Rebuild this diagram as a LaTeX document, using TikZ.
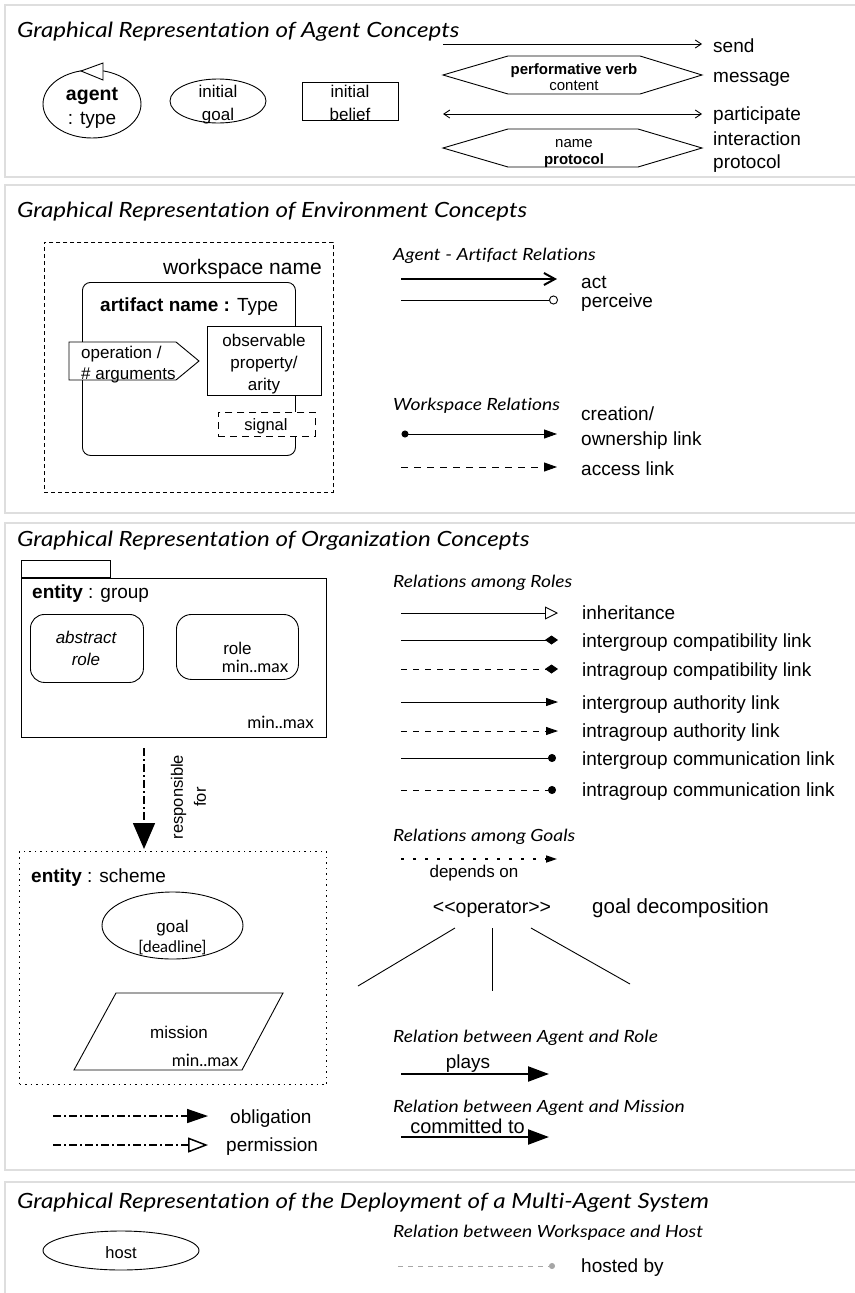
\documentclass[tikz,border=0pt]{standalone}
\usepackage{fontspec}
\setmainfont{Liberation Sans}
\newfontfamily\opt{Lato}[Ligatures={NoCommon}]
\newfontfamily\optwide{Lato}[Ligatures={NoCommon}, FakeStretch=1.15]
\usetikzlibrary{arrows.meta,shapes.geometric}
\newcommand\fsz[2]{\fontsize{#1}{#2}\selectfont}
\tikzset{
  panel/.style={draw=black!13, line width=1.6pt},
  headline/.style={anchor=base west, inner sep=0pt, font=\optwide\itshape\fsz{21}{24}},
  subhead/.style={anchor=base west, inner sep=0pt, font=\optwide\itshape\fsz{16.8}{19}},
  lbl/.style={anchor=mid west, yshift=-1.8pt, inner sep=0pt, font=\fsz{19}{22}},
  txt/.style={anchor=mid, yshift=-1.3pt, inner sep=0pt, font=\fsz{17}{20}},
  optxt/.style={anchor=mid, yshift=-1pt, inner sep=0pt, font=\opt\fsz{17}{20}},
  box/.style={draw, line width=0.9pt, inner sep=0pt},
  legend/.style={line width=0.9pt},
  dashline/.style={line width=0.9pt, dash pattern=on 6pt off 6pt},
  dashdot/.style={line width=1.5pt, dash pattern=on 8pt off 3pt on 2pt off 3pt},
}
\begin{document}
\begin{tikzpicture}[x=1pt,y=-1pt]
% the mid anchors below are measured with this font size
\fsz{19}{22}
\useasboundingbox (0,0) rectangle (854,1293);

% ---------------- agent concepts ----------------
\draw[panel] (5,5) rectangle (860,177);
\node[headline] (t1) at (17,37) {Graphical Representation of Agent Concepts};

\node[box, ellipse, minimum width=98pt, minimum height=68pt] (agent) at (92,104) {};
\filldraw[fill=white, line width=0.9pt] (81,71) -- (103,63) -- (103,80) -- cycle;
\node[txt, font=\bfseries\fsz{19.5}{22}] (agentname) at (92,94) {agent};
\node[txt, font=\fsz{19}{22}] (agenttype) at (92,118.5) {: type};

\node[box, ellipse, minimum width=96pt, minimum height=44pt] (igoal) at (218,101) {};
\node[txt] (igoal1) at (218,91) {initial};
\node[txt] (igoal2) at (218,114) {goal};

\node[box, minimum width=96pt, minimum height=38pt] (ibel) at (350,101) {};
\node[txt] (ibel1) at (350,91) {initial};
\node[txt] (ibel2) at (350,114) {belief};

\coordinate (send-a) at (443,44); \coordinate (send-b) at (702,44);
\draw[legend, -{Straight Barb[length=6pt,width=8pt]}] (send-a) -- (send-b);
\node[lbl] (send) at (713,46) {send};

\draw[legend] (443,75) -- (508,56) -- (640,56) -- (702,75) -- (640,94) -- (508,94) -- cycle;
\node[txt, font=\bfseries\fsz{15}{17}] (perf) at (574,68) {performative verb};
\node[txt, font=\fsz{15}{17}] (content) at (574,84) {content};
\node[lbl] (message) at (713,76) {message};

\coordinate (part-a) at (443,114); \coordinate (part-b) at (702,114);
\draw[legend, {Straight Barb[length=6pt,width=8pt]}-{Straight Barb[length=6pt,width=8pt]}] (part-a) -- (part-b);
\node[lbl] (participate) at (713,113.5) {participate};

\draw[legend] (443,148) -- (508,129) -- (638,129) -- (702,148) -- (638,167) -- (508,167) -- cycle;
\node[txt, font=\fsz{15}{17}] (pname) at (574,141) {name};
\node[txt, font=\bfseries\fsz{15}{17}] (pproto) at (574,158) {protocol};
\node[lbl] (interaction) at (713,139) {interaction};
\node[lbl] (protocol) at (713,162) {protocol};

% ---------------- environment concepts ----------------
\draw[panel] (5,185) rectangle (860,513);
\node[headline] (t2) at (17,217) {Graphical Representation of Environment Concepts};

\node[box, dash pattern=on 4pt off 3pt, minimum width=289pt, minimum height=250pt, anchor=north west] (ws) at (44,242) {};
\node[anchor=mid east, yshift=-1.8pt, inner sep=0pt, font=\fsz{21}{24}] (wsname) at (322,268) {workspace name};
\node[box, rounded corners=8pt, minimum width=213pt, minimum height=173pt, anchor=north west] (art) at (82,282) {};
\node[anchor=mid west, yshift=-1.8pt, inner sep=0pt, font=\fsz{19}{22}] (artname) at (100,305) {\textbf{artifact name :} Type};

\node[box, fill=white, minimum width=114pt, minimum height=69pt, anchor=north west] (obs) at (207,326) {};
\node[txt] (obs1) at (264,340) {observable};
\node[txt] (obs2) at (264,362) {property/};
\node[txt] (obs3) at (264,384) {arity};

\filldraw[fill=white, line width=0.9pt] (69,342) -- (176,342) -- (199,361) -- (176,380) -- (69,380) -- cycle;
\node[txt, anchor=mid west] (op1) at (81,352) {operation /};
\node[txt, anchor=mid west] (op2) at (81,373) {\# arguments};

\node[box, fill=white, dash pattern=on 7pt off 5pt, minimum width=97pt, minimum height=24pt, anchor=north west] (sig) at (218,412) {};
\node[txt, font=\fsz{16.5}{19}] (sigtxt) at (266,424.5) {signal};

\node[subhead] (h21) at (393,260) {Agent - Artifact Relations};
\coordinate (act-a) at (401,279); \coordinate (act-b) at (557,279);
\draw[line width=2pt, -{Straight Barb[length=11pt,width=12pt]}] (act-a) -- (act-b);
\node[lbl] (act) at (581,281.5) {act};
\coordinate (per-a) at (401,300); \coordinate (per-b) at (558,300);
\draw[legend, -{Circle[open,length=9pt]}] (per-a) -- (per-b);
\node[lbl] (perceive) at (581,300.5) {perceive};

\node[subhead] (h22) at (393,410) {Workspace Relations};
\coordinate (cre-a) at (401.5,434); \coordinate (cre-b) at (557,434);
\draw[legend, {Circle[length=7pt]}-{Triangle[length=13pt,width=9pt]}] (cre-a) -- (cre-b);
\node[lbl] (cre1) at (581,414) {creation/};
\node[lbl] (cre2) at (581,439) {ownership link};
\coordinate (acc-a) at (401,467); \coordinate (acc-b) at (557,467);
\draw[line width=0.9pt, dash pattern=on 7pt off 6pt, -{Triangle[length=13pt,width=9pt]}] (acc-a) -- (acc-b);
\node[lbl] (access) at (581,469) {access link};

% ---------------- organization concepts ----------------
\draw[panel] (5,523) rectangle (860,1170);
\node[headline] (t3) at (17,546) {Graphical Representation of Organization Concepts};

\node[box, line width=1.1pt, minimum width=89pt, minimum height=17pt, anchor=south west] (tab) at (21,578) {};
\node[box, line width=1.1pt, minimum width=305pt, minimum height=159pt, anchor=north west] (grp) at (21,578) {};
\node[lbl] (grpname) at (32,592) {\textbf{entity} : group};
\node[box, rounded corners=14pt, minimum width=113pt, minimum height=68pt, anchor=north west] (arole) at (30,614) {};
\node[txt, font=\itshape\fsz{17}{20}] (arole1) at (86,637.5) {abstract};
\node[txt, font=\itshape\fsz{17}{20}] (arole2) at (86,659) {role};
\node[box, rounded corners=15pt, minimum width=122pt, minimum height=65pt, anchor=north west] (role) at (176,614) {};
\node[txt] (role1) at (237.5,648) {role};
\node[optxt] (role2) at (255,666) {min..max};
\node[optxt, anchor=mid east] (grpcard) at (314,722.5) {min..max};

\coordinate (resp-a) at (144,748); \coordinate (resp-b) at (144,849);
\draw[dashdot, -{Triangle[length=26pt,width=22pt]}] (resp-a) -- (resp-b);
\node[rotate=90, align=center, inner sep=0pt, font=\fsz{16.5}{23}] (resp) at (188.5,797) {responsible\\for};

\node[box, line width=1pt, dash pattern=on 1.5pt off 4pt, minimum width=307pt, minimum height=233pt, anchor=north west] (sch) at (19,851) {};
\node[lbl] (schname) at (31,875.5) {\textbf{entity} : scheme};
\node[box, ellipse, minimum width=141pt, minimum height=67pt] (goal) at (172.5,925.5) {};
\node[txt] (goal1) at (172.5,926) {goal};
\node[optxt, font=\opt\fsz{16}{19}] (goal2) at (172.5,946) {[deadline]};
\draw[line width=0.9pt] (116,993) -- (283,993) -- (242,1070) -- (74,1070) -- cycle;
\node[txt] (mission) at (179,1032) {mission};
\node[optxt] (miscard) at (205,1060) {min..max};

\coordinate (obl-a) at (53,1116); \coordinate (obl-b) at (208,1116);
\draw[dashdot, -{Triangle[length=21pt,width=14pt]}] (obl-a) -- (obl-b);
\node[lbl] (obl) at (230,1117) {obligation};
\coordinate (perm-a) at (53,1145); \coordinate (perm-b) at (208,1145);
\draw[dashdot, -{Triangle[open,length=20pt,width=15pt]}] (perm-a) -- (perm-b);
\node[lbl] (perm) at (226,1145) {permission};

\node[subhead] (h31) at (393,587) {Relations among Roles};
\coordinate (r1a) at (401,613); \coordinate (r1b) at (558,613);
\draw[legend, -{Triangle[open,length=13pt,width=13pt]}] (r1a) -- (r1b);
\node[lbl] (r1) at (582,613) {inheritance};
\coordinate (r2a) at (401,640); \coordinate (r2b) at (558,640);
\draw[legend, -{Diamond[length=13pt,width=9pt]}] (r2a) -- (r2b);
\node[lbl] (r2) at (582,641) {intergroup compatibility link};
\coordinate (r3a) at (401,669); \coordinate (r3b) at (558,669);
\draw[dashline, -{Diamond[length=13pt,width=9pt]}] (r3a) -- (r3b);
\node[lbl] (r3) at (582,670) {intragroup compatibility link};
\coordinate (r4a) at (401,702); \coordinate (r4b) at (558,702);
\draw[legend, -{Triangle[length=12pt,width=8pt]}] (r4a) -- (r4b);
\node[lbl] (r4) at (582,703) {intergroup authority link};
\coordinate (r5a) at (401,731); \coordinate (r5b) at (558,731);
\draw[dashline, -{Triangle[length=12pt,width=8pt]}] (r5a) -- (r5b);
\node[lbl] (r5) at (582,731) {intragroup authority link};
\coordinate (r6a) at (401,758); \coordinate (r6b) at (556,758);
\draw[legend, -{Circle[length=8pt]}] (r6a) -- (r6b);
\node[lbl] (r6) at (582,759) {intergroup communication link};
\coordinate (r7a) at (401,790); \coordinate (r7b) at (556,790);
\draw[dashline, -{Circle[length=8pt]}] (r7a) -- (r7b);
\node[lbl] (r7) at (582,790) {intragroup communication link};

\node[subhead] (h32) at (393,841) {Relations among Goals};
\coordinate (dep-a) at (401,859); \coordinate (dep-b) at (557,859);
\draw[line width=1.6pt, dash pattern=on 2.5pt off 9.5pt, -{Triangle[length=11pt,width=7pt]}] (dep-a) -- (dep-b);
\node[txt] (dep) at (474,871) {depends on};
\node[txt, font=\fsz{19.5}{22}] (op) at (492,907) {<\kern0pt<operator>\kern0pt>};
\node[lbl, font=\fsz{20.5}{24}] (decomp) at (592,907) {goal decomposition};
\coordinate (op-l) at (455,928); \coordinate (op-c) at (492,928); \coordinate (op-r) at (531,928);
\coordinate (dec-l) at (358,986); \coordinate (dec-c) at (492,991); \coordinate (dec-r) at (630,984);
\draw[legend] (op-l) -- (dec-l);
\draw[legend] (op-c) -- (dec-c);
\draw[legend] (op-r) -- (dec-r);

\node[subhead] (h33) at (393,1042) {Relation between Agent and Role};
\coordinate (pl-a) at (401,1074); \coordinate (pl-b) at (549,1074);
\draw[line width=2.2pt, -{Triangle[length=21pt,width=15pt]}] (pl-a) -- (pl-b);
\node[txt, font=\fsz{19}{22}] (plays) at (468,1062.5) {plays};
\node[subhead] (h34) at (393,1112) {Relation between Agent and Mission};
\coordinate (cm-a) at (401,1137); \coordinate (cm-b) at (549,1137);
\draw[line width=2.2pt, -{Triangle[length=21pt,width=15pt]}] (cm-a) -- (cm-b);
\node[txt, font=\fsz{20}{23}] (committed) at (467.5,1127) {committed to};

% ---------------- deployment ----------------
\draw[panel] (5,1182) rectangle (860,1310);
\node[headline] (t4) at (17,1208) {Graphical Representation of the Deployment of a Multi-Agent System};
\node[box, ellipse, minimum width=156pt, minimum height=39pt] (host) at (121,1250.5) {};
\node[txt, font=\fsz{16.5}{19}] (hosttxt) at (121,1252) {host};
\node[subhead] (h41) at (393,1237) {Relation between Workspace and Host};
\coordinate (hb-a) at (398,1266); \coordinate (hb-b) at (555,1266);
\draw[draw=black!35, line width=0.9pt, dash pattern=on 5pt off 5pt, -{Circle[length=6pt,fill=black!35]}] (hb-a) -- (hb-b);
\node[lbl] (hosted) at (581,1266) {hosted by};
\end{tikzpicture}
\end{document}
